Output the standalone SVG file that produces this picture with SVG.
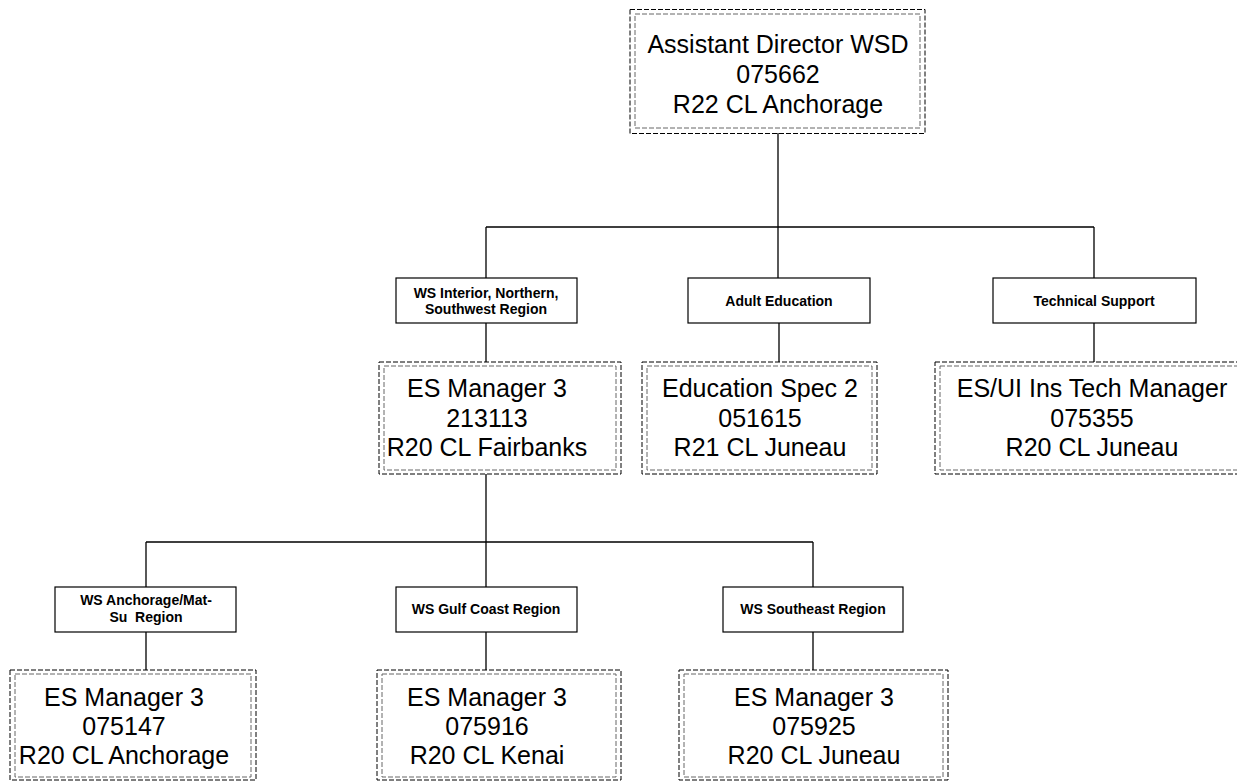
<svg xmlns="http://www.w3.org/2000/svg" width="1237" height="781" viewBox="0 0 1237 781">
<style>
.o{fill:none;stroke:#000;stroke-width:1;stroke-dasharray:5,2}
.i{fill:none;stroke:#666;stroke-width:1;stroke-dasharray:5,2}
.lb{fill:#fff;stroke:#000;stroke-width:1.2}
.big{font-family:"Liberation Sans",Arial,sans-serif;font-size:25px;fill:#000;text-anchor:middle}
.sm{font-family:"Liberation Sans",Arial,sans-serif;font-size:14px;font-weight:bold;fill:#000;text-anchor:middle}
.c{stroke:#000;stroke-width:1.3;fill:none}
</style>
<rect width="1237" height="781" fill="#fff"/>
<g id="connectors">
<path class="c" d="M778,133V278M486,227H1094M486,227V278M1094,227V278M486,323V362M779,323V362M1094,323V362M486,474V587M146,542H813M146,542V587M813,542V587M146,632V670M486,632V670M813,632V670"/>
</g>
<g id="n-top">
<rect class="o" x="630" y="9.5" width="295" height="124"/>
<rect class="i" x="635" y="14" width="285" height="114"/>
<text class="big" x="778" y="53">Assistant Director WSD</text>
<text class="big" x="778" y="83">075662</text>
<text class="big" x="778" y="113">R22 CL Anchorage</text>
</g>
<g id="l-interior">
<rect class="lb" x="396" y="278" width="181" height="45"/>
<text class="sm" x="486" y="298">WS Interior, Northern,</text>
<text class="sm" x="486" y="314">Southwest Region</text>
</g>
<g id="l-adult">
<rect class="lb" x="688" y="278" width="182" height="45"/>
<text class="sm" x="779" y="306">Adult Education</text>
</g>
<g id="l-tech">
<rect class="lb" x="993" y="278" width="203" height="45"/>
<text class="sm" x="1094" y="306">Technical Support</text>
</g>
<g id="n-fairbanks">
<rect class="o" x="379" y="362" width="242" height="112"/>
<rect class="i" x="384" y="366" width="232" height="104"/>
<text class="big" x="487" y="397">ES Manager 3</text>
<text class="big" x="487" y="427">213113</text>
<text class="big" x="487" y="456">R20 CL Fairbanks</text>
</g>
<g id="n-edu">
<rect class="o" x="642" y="362" width="235" height="112"/>
<rect class="i" x="647" y="366" width="225" height="104"/>
<text class="big" x="760" y="397">Education Spec 2</text>
<text class="big" x="760" y="427">051615</text>
<text class="big" x="760" y="456">R21 CL Juneau</text>
</g>
<g id="n-esui">
<rect class="o" x="935" y="362" width="310" height="112"/>
<rect class="i" x="940" y="366" width="300" height="104"/>
<text class="big" x="1092" y="397">ES/UI Ins Tech Manager</text>
<text class="big" x="1092" y="427">075355</text>
<text class="big" x="1092" y="456">R20 CL Juneau</text>
</g>
<g id="l-anch">
<rect class="lb" x="55" y="587" width="181" height="45"/>
<text class="sm" x="146" y="605">WS Anchorage/Mat-</text>
<text class="sm" x="146" y="622" xml:space="preserve">Su  Region</text>
</g>
<g id="l-gulf">
<rect class="lb" x="396" y="587" width="181" height="45"/>
<text class="sm" x="486" y="614">WS Gulf Coast Region</text>
</g>
<g id="l-se">
<rect class="lb" x="723" y="587" width="180" height="45"/>
<text class="sm" x="813" y="614">WS Southeast Region</text>
</g>
<g id="n-anch">
<rect class="o" x="10" y="670" width="246" height="110"/>
<rect class="i" x="15" y="674" width="236" height="103"/>
<text class="big" x="124" y="706">ES Manager 3</text>
<text class="big" x="124" y="735">075147</text>
<text class="big" x="124" y="764">R20 CL Anchorage</text>
</g>
<g id="n-kenai">
<rect class="o" x="377" y="670" width="244" height="110"/>
<rect class="i" x="382" y="674" width="234" height="103"/>
<text class="big" x="487" y="706">ES Manager 3</text>
<text class="big" x="487" y="735">075916</text>
<text class="big" x="487" y="764">R20 CL Kenai</text>
</g>
<g id="n-juneau">
<rect class="o" x="679" y="670" width="269" height="110"/>
<rect class="i" x="684" y="674" width="259" height="103"/>
<text class="big" x="814" y="706">ES Manager 3</text>
<text class="big" x="814" y="735">075925</text>
<text class="big" x="814" y="764">R20 CL Juneau</text>
</g>
</svg>
